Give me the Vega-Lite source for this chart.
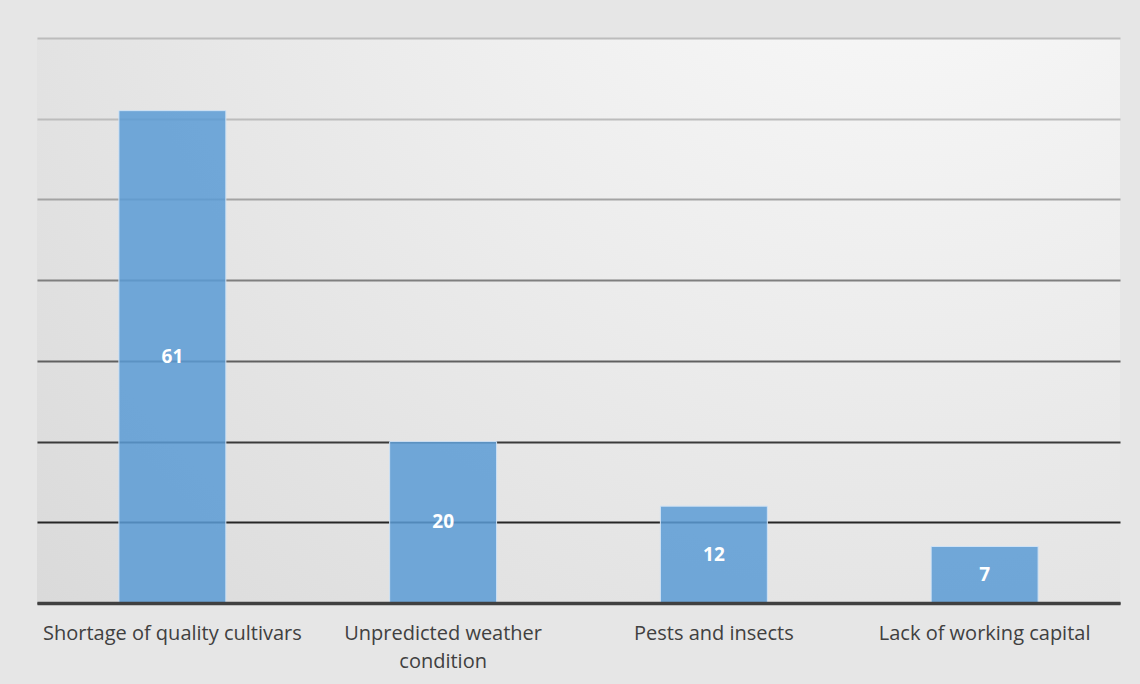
{
  "$schema": "https://vega.github.io/schema/vega-lite/v6.json",
  "width": 1083,
  "height": 565,
  "autosize": {"type": "none"},
  "padding": {"left": 37, "top": 38, "right": 20, "bottom": 81},
  "background": "#e6e6e6",
  "config": {"view": {"stroke": null, "fill": {"gradient": "radial", "x1": 0.8, "y1": 0.0, "r1": 0, "x2": 0.8, "y2": 0.0, "r2": 1.1, "stops": [{"offset": 0, "color": "#fdfdfd"}, {"offset": 1, "color": "#dadada"}]}}, "font": "Open Sans"},
  "data": {"values": [
    {"category": "Shortage of quality cultivars", "value": 61},
    {"category": "Unpredicted weather condition", "value": 20},
    {"category": "Pests and insects", "value": 12},
    {"category": "Lack of working capital", "value": 7}
  ]},
  "layer": [
    {
      "mark": {"type": "bar", "fill": "#5b9bd5", "fillOpacity": 0.85, "stroke": "#cfe2f5", "strokeWidth": 1},
      "encoding": {
        "x": {"field": "category", "type": "nominal", "sort": null,
          "scale": {"paddingInner": 0.605, "paddingOuter": 0.3025},
          "axis": {"title": null, "ticks": false, "domainColor": "#404040", "domainWidth": 3.5, "labelAngle": 0,
            "labelFont": "Open Sans", "labelFontSize": 20, "labelColor": "#404040", "labelPadding": 20, "labelLineHeight": 28, "labelLimit": 0,
            "labelExpr": "datum.label == 'Unpredicted weather condition' ? ['Unpredicted weather', 'condition'] : datum.label",
            "zindex": 1}},
        "y": {"field": "value", "type": "quantitative",
          "scale": {"domain": [0, 70], "nice": false},
          "axis": {"title": null, "labels": false, "ticks": false, "domain": false, "values": [0, 10, 20, 30, 40, 50, 60, 70],
            "gridWidth": 2,
            "gridColor": {"condition": [
              {"test": "datum.value <= 10", "value": "#262626"},
              {"test": "datum.value <= 20", "value": "#3a3a3a"},
              {"test": "datum.value <= 30", "value": "#606060"},
              {"test": "datum.value <= 40", "value": "#7f7f7f"},
              {"test": "datum.value <= 50", "value": "#a3a3a3"}
            ], "value": "#bcbcbc"},
            "zindex": 0}}
      }
    },
    {
      "mark": {"type": "text", "color": "white", "fontWeight": "bold", "fontSize": 19, "font": "Open Sans", "baseline": "middle",
        "yOffset": {"expr": "(scale('y', 0) - scale('y', datum.value)) / 2"}},
      "encoding": {
        "x": {"field": "category", "type": "nominal", "sort": null},
        "y": {"field": "value", "type": "quantitative"},
        "text": {"field": "value", "type": "quantitative"}
      }
    }
  ]
}
